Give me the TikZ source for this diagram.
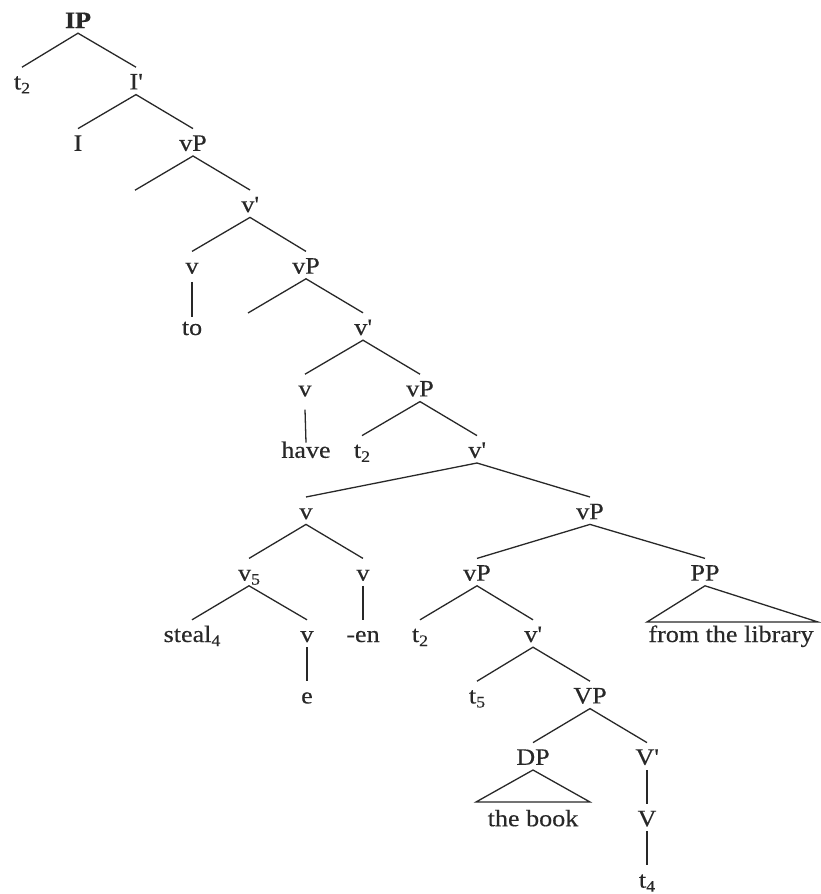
\documentclass[tikz,border=0pt]{standalone}
\usepackage{fontspec}
\setmainfont{Liberation Serif}[FakeStretch=1.11,FakeBold=0.35]
\newcommand\sbs[1]{\raisebox{-4pt}{\fontsize{16}{16}\selectfont #1}}
\newcommand\pr{\textquotesingle}
\definecolor{ink}{RGB}{40,40,40}
\begin{document}
\begin{tikzpicture}[x=1pt,y=-1pt,
  lbl/.style={anchor=base, inner sep=0pt, text height=22pt, text depth=5pt,
    font=\fontsize{23.5}{27}\selectfont, text=ink},
  br/.style={draw=ink, line width=1.3pt}]
\fill[white] (0,0) rectangle (821,894);
\useasboundingbox (0,0) rectangle (821,894);
% rows
\node[lbl] (n0) at (78,28) {\textbf{IP}};
\node[lbl] (n1a) at (22,89.4) {t\sbs{2}};
\node[lbl] (n1b) at (136,89.4) {I\pr};
\node[lbl] (n2a) at (78,150.8) {I};
\node[lbl] (n2b) at (193,150.8) {vP};
\coordinate (c3) at (135,190.2);
\node[lbl] (n3) at (250,212.2) {v\pr};
\node[lbl] (n4a) at (192,273.6) {v};
\node[lbl] (n4b) at (306,273.6) {vP};
\node[lbl] (n5a) at (192,335) {to};
\coordinate (c5) at (248,313);
\node[lbl] (n5b) at (363,335) {v\pr};
\node[lbl] (n6a) at (305,396.4) {v};
\node[lbl] (n6b) at (420,396.4) {vP};
\node[lbl] (n7a) at (306,457.8) {have};
\node[lbl] (n7b) at (362,457.8) {t\sbs{2}};
\node[lbl] (n7c) at (477,457.8) {v\pr};
\node[lbl] (n8a) at (306,519.2) {v};
\node[lbl] (n8b) at (590,519.2) {vP};
\node[lbl] (n9a) at (249,580.6) {v\sbs{5}};
\node[lbl] (n9b) at (363,580.6) {v};
\node[lbl] (n9c) at (477,580.6) {vP};
\node[lbl] (n9d) at (705,580.6) {PP};
\node[lbl] (n10a) at (192,642) {steal\sbs{4}};
\node[lbl] (n10b) at (307,642) {v};
\node[lbl] (n10c) at (363,642) {-en};
\node[lbl] (n10d) at (420,642) {t\sbs{2}};
\node[lbl] (n10e) at (533,642) {v\pr};
\node[lbl] (n10f) at (731,642) {from the library};
\node[lbl] (n11a) at (307,703.4) {e};
\node[lbl] (n11b) at (477,703.4) {t\sbs{5}};
\node[lbl] (n11c) at (590,703.4) {VP};
\node[lbl] (n12a) at (533,764.8) {DP};
\node[lbl] (n12b) at (647,764.8) {V\pr};
\node[lbl] (n13a) at (533,826.2) {the book};
\node[lbl] (n13b) at (647,826.2) {V};
\node[lbl] (n14) at (647,887.6) {t\sbs{4}};
% triangle corners
\coordinate (ppl) at (647,622);
\coordinate (ppr) at (818,622);
\coordinate (dpl) at (476,802);
\coordinate (dpr) at (590,802);
% branches
\draw[br] (n1a.north) -- (n0.south) -- (n1b.north);
\draw[br] (n2a.north) -- (n1b.south) -- (n2b.north);
\draw[br] (c3) -- (n2b.south) -- (n3.north);
\draw[br] (n4a.north) -- (n3.south) -- (n4b.north);
\draw[br] ([yshift=-3pt]n4a.south) -- ([yshift=-4pt]n5a.north);
\draw[br] (c5) -- (n4b.south) -- (n5b.north);
\draw[br] (n6a.north) -- (n5b.south) -- (n6b.north);
\draw[br] ([yshift=-8pt]n6a.south) -- ([yshift=-7pt]n7a.north);
\draw[br] (n7b.north) -- (n6b.south) -- (n7c.north);
\draw[br] (n8a.north) -- (n7c.south) -- (n8b.north);
\draw[br] (n9a.north) -- (n8a.south) -- (n9b.north);
\draw[br] (n9c.north) -- (n8b.south) -- (n9d.north);
\draw[br] (n10a.north) -- (n9a.south) -- (n10b.north);
\draw[br] (n9b.south) -- (n10c.north);
\draw[br] (n10d.north) -- (n9c.south) -- (n10e.north);
\draw[br] (ppl) -- (n9d.south) -- (ppr) -- cycle;
\draw[br] (n10b.south) -- (n11a.north);
\draw[br] (n11b.north) -- (n10e.south) -- (n11c.north);
\draw[br] (n12a.north) -- (n11c.south) -- (n12b.north);
\draw[br] (dpl) -- (n12a.south) -- (dpr) -- cycle;
\draw[br] (n12b.south) -- (n13b.north);
\draw[br] (n13b.south) -- (n14.north);
\end{tikzpicture}
\end{document}
